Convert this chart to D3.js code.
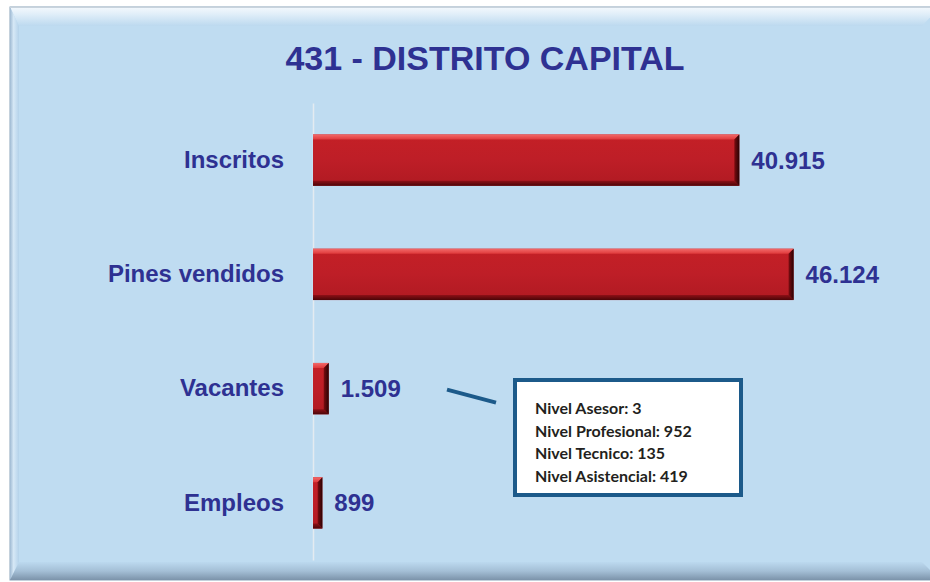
<!DOCTYPE html>
<html>
<head>
<meta charset="utf-8">
<script src="https://cdn.jsdelivr.net/npm/d3@7"></script>
<style>
  body { margin: 0; background: #ffffff; }
  svg text { font-family: "Liberation Sans", Arial, sans-serif; }
</style>
</head>
<body>
<div id="chart"></div>
<script>
// Chart data
const categories = ['Inscritos', 'Pines vendidos', 'Vacantes', 'Empleos']
const values = [40915, 46124, 1509, 899]
const valueLabels = ['40.915', '46.124', '1.509', '899']
const title = '431 - DISTRITO CAPITAL'
const noteLines = ['Nivel Asesor: 3', 'Nivel Profesional: 952', 'Nivel Tecnico: 135', 'Nivel Asistencial: 419']

const width = 930, height = 582
const textColor = '#2e3192'

let svg = d3.select('#chart').append('svg')
    .attr('width', width)
    .attr('height', height)

let defs = svg.append('defs')

// gradient helper
function grad(id, x2, y2, stops) {
    let g = defs.append('linearGradient').attr('id', id)
        .attr('x1', 0).attr('y1', 0).attr('x2', x2).attr('y2', y2)
    stops.forEach(s => g.append('stop').attr('offset', s[0]).attr('stop-color', s[1]))
}
grad('topBevel', 0, 1, [[0, '#f4f9fd'], [0.35, '#e2eff9'], [1, '#bcd9ef']])
grad('leftBevel', 1, 0, [[0, '#9fbad3'], [0.4, '#d6e8f6'], [1, '#b4d2ea']])
grad('bottomBevel', 0, 1, [[0, '#bcd9ef'], [0.5, '#a4bfd6'], [1, '#7c93aa']])

// Panel frame
const fx0 = 10, fy0 = 7, fx1 = 940, fy1 = 580, bev = 18
svg.append('rect')
    .attr('x', fx0).attr('y', fy0)
    .attr('width', fx1 - fx0).attr('height', fy1 - fy0)
    .attr('fill', '#bfdcf1')
    .attr('stroke', '#8aa3ba')

const poly = (pts, fill) => svg.append('polygon')
    .attr('points', pts.map(p => p.join(',')).join(' '))
    .attr('fill', fill)

poly([[fx0, fy0], [fx1, fy0], [fx1 - bev, fy0 + bev + 1], [fx0 + 9, fy0 + bev + 1]], 'url(#topBevel)')
poly([[fx0, fy0], [fx0 + 9, fy0 + bev + 1], [fx0 + 9, fy1 - bev], [fx0, fy1]], 'url(#leftBevel)')
poly([[fx0, fy1], [fx0 + 9, fy1 - bev], [fx1 - bev, fy1 - bev], [fx1, fy1]], 'url(#bottomBevel)')
svg.append('line')
    .attr('x1', fx0).attr('x2', fx1).attr('y1', fy0 + 0.5).attr('y2', fy0 + 0.5)
    .attr('stroke', '#c8d3dd')

// Title
svg.append('text')
    .attr('x', 485)
    .attr('y', 70)
    .attr('text-anchor', 'middle')
    .style('font-size', '34px')
    .style('font-weight', 'bold')
    .style('fill', textColor)
    .text(title)

// Scales
const x = d3.scaleLinear()
    .domain([0, 50000])
    .range([313, 834])

const y = d3.scaleBand()
    .domain(categories)
    .range([103, 560])
    .paddingInner(0.55)
    .paddingOuter(0.275)

// Axis with category labels
let axis = svg.append('g')
    .attr('transform', 'translate(' + x(0) + ',0)')
    .call(d3.axisLeft(y).tickSize(0).tickPadding(29).tickSizeOuter(0))

axis.select('.domain')
    .attr('stroke', '#e4ebf1')
    .attr('stroke-width', 1.5)

axis.selectAll('text')
    .style('font-family', '"Liberation Sans", Arial, sans-serif')
    .style('font-size', '24px')
    .style('font-weight', 'bold')
    .style('fill', textColor)

// Bar bevel gradients
grad('barMain', 0, 1, [[0, '#c42026'], [0.5, '#be1e27'], [1, '#b01a22']])
grad('barTop', 0, 1, [[0, '#f26a6a'], [1, '#e03a3c']])
grad('barBottom', 0, 1, [[0, '#8c1016'], [1, '#4a0508']])
grad('barRight', 1, 0, [[0, '#7a0c10'], [1, '#2a0204']])

const data = categories.map((c, i) => ({ cat: c, value: values[i], label: valueLabels[i] }))

let bars = svg.append('g').selectAll('g')
    .data(data)
    .join('g')

const b = 5
bars.append('rect')
    .attr('x', x(0))
    .attr('y', d => y(d.cat))
    .attr('width', d => x(d.value) - x(0))
    .attr('height', y.bandwidth())
    .attr('fill', 'url(#barMain)')

// top bevel
bars.append('polygon')
    .attr('points', d => {
        let x0 = x(0), x1 = x(d.value), y0 = y(d.cat)
        let bb = Math.min(b, (x1 - x0) / 2)
        return [[x0, y0], [x1, y0], [x1 - bb, y0 + b], [x0, y0 + b]].join(' ')
    })
    .attr('fill', 'url(#barTop)')

// bottom bevel
bars.append('polygon')
    .attr('points', d => {
        let x0 = x(0), x1 = x(d.value), y1 = y(d.cat) + y.bandwidth()
        let bb = Math.min(b, (x1 - x0) / 2)
        return [[x0, y1], [x1, y1], [x1 - bb, y1 - b], [x0, y1 - b]].join(' ')
    })
    .attr('fill', 'url(#barBottom)')

// right bevel
bars.append('polygon')
    .attr('points', d => {
        let x0 = x(0), x1 = x(d.value), y0 = y(d.cat), y1 = y0 + y.bandwidth()
        let bb = Math.min(b, (x1 - x0) / 2)
        return [[x1, y0], [x1, y1], [x1 - bb, y1 - b], [x1 - bb, y0 + b]].join(' ')
    })
    .attr('fill', 'url(#barRight)')

// Value labels
bars.append('text')
    .attr('x', d => x(d.value) + 12)
    .attr('y', d => y(d.cat) + y.bandwidth() / 2)
    .attr('dy', '0.35em')
    .style('font-size', '24px')
    .style('font-weight', 'bold')
    .style('fill', textColor)
    .text(d => d.label)

// Callout connector for Vacantes
const vy = y('Vacantes') + y.bandwidth() / 2
svg.append('line')
    .attr('x1', 447).attr('y1', vy + 1)
    .attr('x2', 496).attr('y2', vy + 14)
    .attr('stroke', '#1c5a8a')
    .attr('stroke-width', 4)

// Callout box
svg.append('rect')
    .attr('x', 515).attr('y', 380)
    .attr('width', 226).attr('height', 115)
    .attr('fill', '#ffffff')
    .attr('stroke', '#1c5a8a')
    .attr('stroke-width', 4)

svg.append('g').selectAll('text')
    .data(noteLines)
    .join('text')
    .attr('x', 535)
    .attr('y', (d, i) => 414 + i * 22.7)
    .style('font-family', 'Lato, "Open Sans", sans-serif')
    .style('font-size', '16px')
    .style('font-weight', 'bold')
    .style('fill', '#231f20')
    .text(d => d)
</script>
</body>
</html>
